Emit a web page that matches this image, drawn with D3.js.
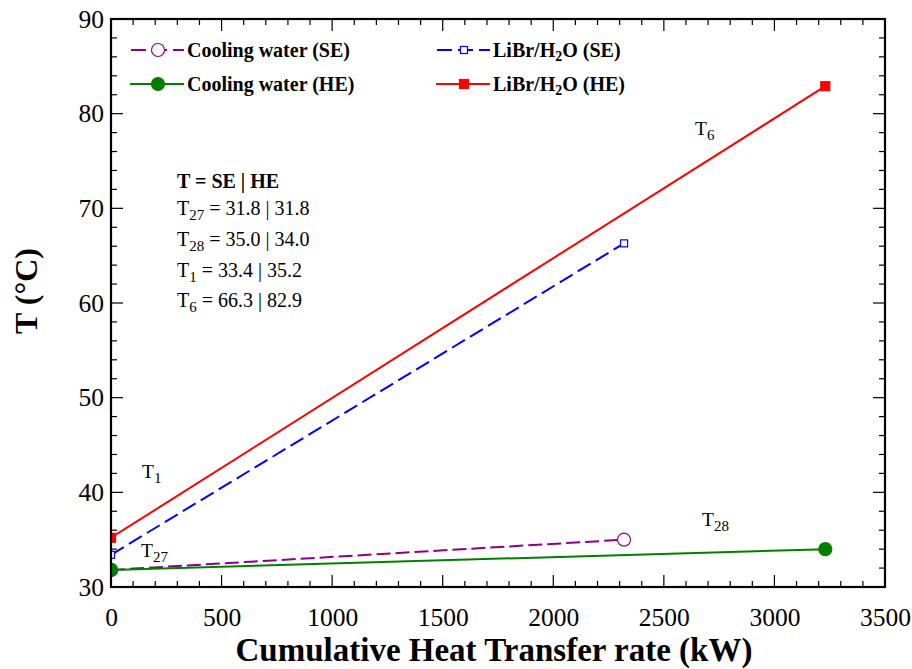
<!DOCTYPE html>
<html>
<head>
<meta charset="utf-8">
<script src="https://cdn.jsdelivr.net/npm/d3@7"></script>
</head>
<body style="margin:0;background:#fff">
<svg id="chart" width="912" height="669"></svg>
<script>
// Cumulative heat transferred (kW) at each end of the absorber
const heatSE = [0, 2320];
const heatHE = [0, 3230];

// Temperatures (°C)
const coolingSE = [31.8, 35.0];
const coolingHE = [31.8, 34.0];
const librSE = [33.4, 66.3];
const librHE = [35.2, 82.9];

const xTicks = [0, 500, 1000, 1500, 2000, 2500, 3000, 3500];
const yTicks = [30, 40, 50, 60, 70, 80, 90];

const seriesNames = ["Cooling water (SE)", "Cooling water (HE)", "LiBr/H2O (SE)", "LiBr/H2O (HE)"];

const FONT = "Liberation Serif";
const svg = d3.select("#chart").style("font-family", FONT);
const margin = { left: 111, top: 19, right: 27, bottom: 82 };
const W = 912, H = 669;
const x = d3.scaleLinear().domain([0, 3500]).range([margin.left, W - margin.right]);
const y = d3.scaleLinear().domain([30, 90]).range([H - margin.bottom, margin.top]);

function txt(g, px, py, size, weight) {
  return g.append("text").attr("x", px).attr("y", py)
    .attr("font-family", FONT)
    .style("font-family", FONT).style("font-size", size + "px")
    .style("font-weight", weight || "normal").attr("fill", "#000");
}

svg.append("defs").append("clipPath").attr("id", "plotClip")
  .append("rect")
  .attr("x", x(0)).attr("y", y(90))
  .attr("width", x(3500) - x(0)).attr("height", y(30) - y(90));

// Inward ticks on all four sides
const xMinor = d3.range(0, 3501, 100);
const yMinor = d3.range(30, 90.1, 2);
const tickG = svg.append("g").attr("stroke", "#000").attr("stroke-width", 1.2);
xMinor.forEach(v => {
  const len = v % 500 === 0 ? 12 : 6;
  tickG.append("line").attr("x1", x(v)).attr("x2", x(v)).attr("y1", y(30)).attr("y2", y(30) - len);
  tickG.append("line").attr("x1", x(v)).attr("x2", x(v)).attr("y1", y(90)).attr("y2", y(90) + len);
});
yMinor.forEach(v => {
  const len = Math.abs(v % 10) < 1e-6 ? 12 : 6;
  tickG.append("line").attr("x1", x(0)).attr("x2", x(0) + len).attr("y1", y(v)).attr("y2", y(v));
  tickG.append("line").attr("x1", x(3500)).attr("x2", x(3500) - len).attr("y1", y(v)).attr("y2", y(v));
});

// Tick labels via d3 axes
function styleAxis(g) {
  g.attr("font-family", FONT).attr("font-size", null);
  g.select(".domain").remove();
  g.selectAll("text")
    .attr("font-family", FONT)
    .style("font-family", FONT).style("font-size", "25.5px").attr("fill", "#000");
}
const xAxis = svg.append("g").attr("transform", `translate(0,${y(30)})`)
  .call(d3.axisBottom(x).tickValues(xTicks).tickSize(0).tickPadding(21).tickFormat(d3.format("d")));
styleAxis(xAxis);

const yAxis = svg.append("g").attr("transform", `translate(${x(0)},0)`)
  .call(d3.axisLeft(y).tickValues(yTicks).tickSize(0).tickPadding(7).tickFormat(d3.format("d")));
styleAxis(yAxis);

// Series
const plot = svg.append("g").attr("clip-path", "url(#plotClip)");
const line = d3.line().x(d => x(d[0])).y(d => y(d[1]));
const series = [
  { name: seriesNames[0], xs: heatSE, ys: coolingSE, color: "#8b008b", dash: "14,5", marker: "circle", fill: "#fff", size: 6.5 },
  { name: seriesNames[1], xs: heatHE, ys: coolingHE, color: "#008000", dash: null, marker: "circle", fill: "#008000", size: 6.5 },
  { name: seriesNames[2], xs: heatSE, ys: librSE, color: "#0000ff", dash: "15,6", marker: "square", fill: "#fff", size: 7 },
  { name: seriesNames[3], xs: heatHE, ys: librHE, color: "#ff0000", dash: null, marker: "square", fill: "#ff0000", size: 9 }
];

function drawMarker(g, s, cx, cy) {
  if (s.marker === "circle") {
    g.append("circle").attr("cx", cx).attr("cy", cy).attr("r", s.size)
      .attr("fill", s.fill).attr("stroke", s.color).attr("stroke-width", 1.2);
  } else {
    g.append("rect").attr("x", cx - s.size / 2).attr("y", cy - s.size / 2)
      .attr("width", s.size).attr("height", s.size)
      .attr("fill", s.fill).attr("stroke", s.color).attr("stroke-width", 1.2);
  }
}

series.forEach(s => {
  const pts = s.xs.map((v, i) => [v, s.ys[i]]);
  plot.append("path").attr("d", line(pts)).attr("fill", "none")
    .attr("stroke", s.color).attr("stroke-width", 2)
    .attr("stroke-dasharray", s.dash);
  pts.forEach(p => drawMarker(plot, s, x(p[0]), y(p[1])));
});

// Frame
svg.append("rect").attr("x", x(0)).attr("y", y(90))
  .attr("width", x(3500) - x(0)).attr("height", y(30) - y(90))
  .attr("fill", "none").attr("stroke", "#000").attr("stroke-width", 2.2);

// Legend
const legendPos = [[130, 50], [130, 84], [436, 50], [436, 84]];
series.forEach((s, i) => {
  const [lx, ly] = legendPos[i];
  const g = svg.append("g");
  g.append("line").attr("x1", lx).attr("x2", lx + 54).attr("y1", ly).attr("y2", ly)
    .attr("stroke", s.color).attr("stroke-width", 2)
    .attr("stroke-dasharray", s.dash ? "15,6" : null)
    .attr("stroke-dashoffset", s.dash ? -1 : null);
  drawMarker(g, s, lx + 28, ly);
  const t = txt(g, lx + 57, ly + 7, 20, "bold");
  if (s.name.includes("H2O")) {
    const rest = s.name.split("H2O")[1];
    t.append("tspan").text("LiBr/H");
    t.append("tspan").text("2").style("font-size", "14px").attr("dy", 4);
    t.append("tspan").text("O" + rest).attr("dy", -4);
  } else {
    t.text(s.name);
  }
});

// Summary block
const ann = svg.append("g");
txt(ann, 177, 188, 20, "bold").text("T = SE | HE");
const rows = [
  ["27", coolingSE[0], coolingHE[0]],
  ["28", coolingSE[1], coolingHE[1]],
  ["1", librSE[0], librHE[0]],
  ["6", librSE[1], librHE[1]]
];
rows.forEach((r, i) => {
  const t = txt(ann, 177, 215 + i * 30.8, 20);
  t.append("tspan").text("T");
  t.append("tspan").text(r[0]).style("font-size", "15px").attr("dy", 5);
  t.append("tspan").text(` = ${r[1].toFixed(1)} | ${r[2].toFixed(1)}`).attr("dy", -5);
});

// Point labels
function subLabel(px, py, sub) {
  const t = txt(svg, px, py, 19.5);
  t.append("tspan").text("T");
  t.append("tspan").text(sub).style("font-size", "15px").attr("dy", 5);
}
subLabel(695, 135, "6");
subLabel(142, 478, "1");
subLabel(141, 557, "27");
subLabel(702, 526, "28");

// Axis titles
txt(svg, 494, 661, 33, "bold")
  .attr("text-anchor", "middle")
  .text("Cumulative Heat Transfer rate (kW)");
svg.append("text").attr("transform", "translate(37,291) rotate(-90)")
  .attr("text-anchor", "middle").attr("font-family", FONT)
  .style("font-family", FONT).style("font-size", "32px").style("font-weight", "bold")
  .text("T (°C)");
</script>
</body>
</html>
